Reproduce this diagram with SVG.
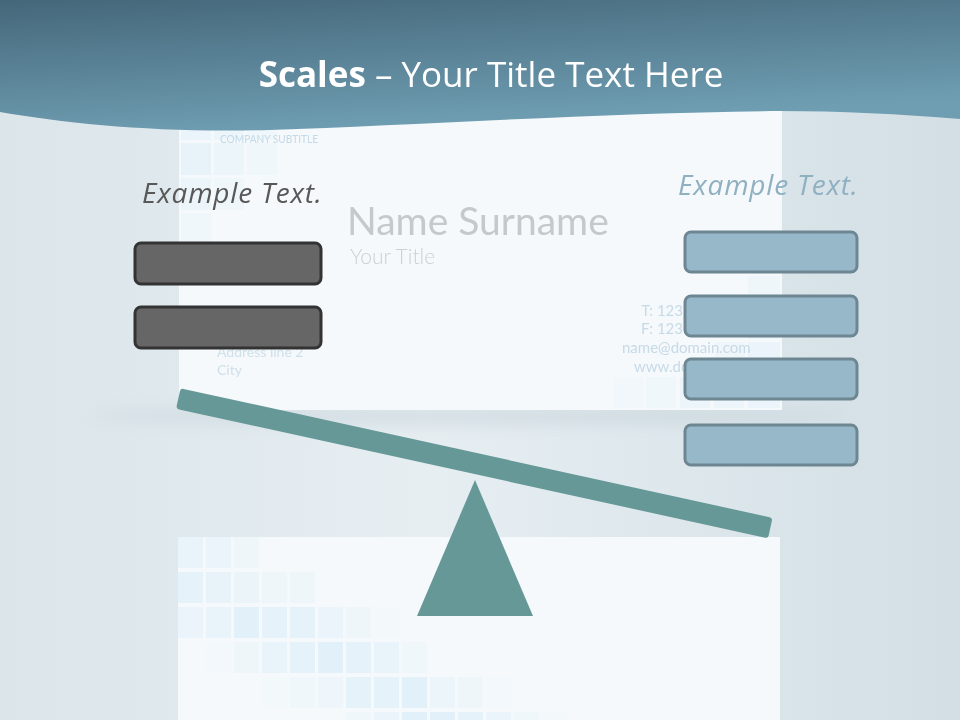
<svg xmlns="http://www.w3.org/2000/svg" width="960" height="720" viewBox="0 0 960 720">
<defs>
<linearGradient id="bg" x1="0" y1="0" x2="1" y2="0">
<stop offset="0" stop-color="#dbe5ea"/><stop offset="0.45" stop-color="#e6eef2"/><stop offset="1" stop-color="#d3dfe5"/>
</linearGradient>
<linearGradient id="hdr" x1="0" y1="0" x2="0.35" y2="1">
<stop offset="0" stop-color="#45677a"/><stop offset="1" stop-color="#6f9eb3"/>
</linearGradient>
<filter id="blur" x="-20%" y="-200%" width="140%" height="500%"><feGaussianBlur stdDeviation="8"/></filter>
<style>
.card{fill:#f5f9fb}
.t{fill:#d6ebf8}
.lbox{fill:#666666;stroke:#333333;stroke-width:3}
.rbox{fill:#97b8c8;stroke:#6e8691;stroke-width:3}
.scale{fill:#669898}
.bgt{font-family:Lato,"Open Sans",sans-serif}
.ex{font-family:"Open Sans",sans-serif;font-style:italic;font-size:28px;letter-spacing:0.8px}
</style>
</defs>
<rect width="960" height="720" fill="url(#bg)"/>
<!-- upper card -->
<ellipse cx="470" cy="416" rx="380" ry="9" fill="#b4c2c9" opacity="0.35" filter="url(#blur)"/>
<rect class="card" x="179" y="90" width="603" height="320"/>
<g opacity="0.5">
<rect class="t" x="181" y="108" width="30" height="32" opacity="0.7"/>
<rect class="t" x="214" y="108" width="30" height="32" opacity="0.5"/>
<rect class="t" x="247" y="108" width="30" height="32" opacity="0.3"/>
<rect class="t" x="181" y="143" width="30" height="32" opacity="0.8"/>
<rect class="t" x="214" y="143" width="30" height="32" opacity="0.6"/>
<rect class="t" x="247" y="143" width="30" height="32" opacity="0.35"/>
<rect class="t" x="181" y="178" width="30" height="32" opacity="0.5"/>
<rect class="t" x="214" y="178" width="30" height="32" opacity="0.3"/>
<rect class="t" x="181" y="213" width="30" height="32" opacity="0.3"/>
<rect class="t" x="748" y="276" width="32" height="30" opacity="0.4"/>
<rect class="t" x="748" y="309" width="32" height="30" opacity="0.5"/>
<rect class="t" x="748" y="342" width="32" height="30" opacity="0.7"/>
<rect class="t" x="715" y="342" width="30" height="30" opacity="0.4"/>
<rect class="t" x="613" y="377" width="30" height="31" opacity="0.2"/>
<rect class="t" x="646" y="377" width="30" height="31" opacity="0.3"/>
<rect class="t" x="680" y="377" width="30" height="31" opacity="0.5"/>
<rect class="t" x="714" y="377" width="30" height="31" opacity="0.6"/>
<rect class="t" x="748" y="377" width="32" height="31" opacity="0.7"/>
</g>
<g class="bgt">
<text x="220" y="143" font-size="11.5" fill="#c3d9e7" textLength="98" lengthAdjust="spacingAndGlyphs">COMPANY SUBTITLE</text>
<text x="347" y="235" font-size="39" fill="#c6c9cb">Name Surname</text>
<text x="350" y="264" font-size="21" fill="#ccd0d2" font-weight="300">Your Title</text>
<text x="683" y="316" font-size="15" fill="#c6dae7" text-anchor="end">T: 123</text>
<text x="683" y="334" font-size="15" fill="#c6dae7" text-anchor="end">F: 123</text>
<text x="622" y="353" font-size="15" fill="#c6dae7">name@domain.com</text>
<text x="634" y="372" font-size="15" fill="#c6dae7">www.domain.com</text>
<text x="217" y="357" font-size="14" fill="#cfe0ea">Address line 2</text>
<text x="217" y="375" font-size="14" fill="#cfe0ea">City</text>
</g>
<!-- lower card -->
<rect class="card" x="178" y="537" width="602" height="183"/>
<g opacity="0.7">
<rect class="t" x="178" y="537" width="25" height="31" opacity="0.55"/>
<rect class="t" x="206" y="537" width="25" height="31" opacity="0.45"/>
<rect class="t" x="234" y="537" width="25" height="31" opacity="0.25"/>
<rect class="t" x="178" y="572" width="25" height="31" opacity="0.75"/>
<rect class="t" x="206" y="572" width="25" height="31" opacity="0.6"/>
<rect class="t" x="234" y="572" width="25" height="31" opacity="0.5"/>
<rect class="t" x="262" y="572" width="25" height="31" opacity="0.3"/>
<rect class="t" x="290" y="572" width="25" height="31" opacity="0.25"/>
<rect class="t" x="178" y="607" width="25" height="31" opacity="0.45"/>
<rect class="t" x="206" y="607" width="25" height="31" opacity="0.55"/>
<rect class="t" x="234" y="607" width="25" height="31" opacity="0.85"/>
<rect class="t" x="262" y="607" width="25" height="31" opacity="0.7"/>
<rect class="t" x="290" y="607" width="25" height="31" opacity="0.65"/>
<rect class="t" x="318" y="607" width="25" height="31" opacity="0.45"/>
<rect class="t" x="346" y="607" width="25" height="31" opacity="0.3"/>
<rect class="t" x="374" y="607" width="25" height="31" opacity="0.1"/>
<rect class="t" x="206" y="642" width="25" height="31" opacity="0.15"/>
<rect class="t" x="234" y="642" width="25" height="31" opacity="0.25"/>
<rect class="t" x="262" y="642" width="25" height="31" opacity="0.55"/>
<rect class="t" x="290" y="642" width="25" height="31" opacity="0.65"/>
<rect class="t" x="318" y="642" width="25" height="31" opacity="0.85"/>
<rect class="t" x="346" y="642" width="25" height="31" opacity="0.75"/>
<rect class="t" x="374" y="642" width="25" height="31" opacity="0.55"/>
<rect class="t" x="402" y="642" width="25" height="31" opacity="0.2"/>
<rect class="t" x="262" y="677" width="25" height="31" opacity="0.1"/>
<rect class="t" x="290" y="677" width="25" height="31" opacity="0.2"/>
<rect class="t" x="318" y="677" width="25" height="31" opacity="0.35"/>
<rect class="t" x="346" y="677" width="25" height="31" opacity="0.65"/>
<rect class="t" x="374" y="677" width="25" height="31" opacity="0.75"/>
<rect class="t" x="402" y="677" width="25" height="31" opacity="0.85"/>
<rect class="t" x="430" y="677" width="25" height="31" opacity="0.4"/>
<rect class="t" x="458" y="677" width="25" height="31" opacity="0.3"/>
<rect class="t" x="486" y="677" width="25" height="31" opacity="0.15"/>
<rect class="t" x="346" y="712" width="25" height="8" opacity="0.2"/>
<rect class="t" x="374" y="712" width="25" height="8" opacity="0.45"/>
<rect class="t" x="402" y="712" width="25" height="8" opacity="0.85"/>
<rect class="t" x="430" y="712" width="25" height="8" opacity="0.85"/>
<rect class="t" x="458" y="712" width="25" height="8" opacity="0.7"/>
<rect class="t" x="486" y="712" width="25" height="8" opacity="0.45"/>
<rect class="t" x="514" y="712" width="25" height="8" opacity="0.2"/>
<rect class="t" x="542" y="712" width="25" height="8" opacity="0.1"/>
</g>
<!-- header -->
<path d="M0,0 H960 V119 C900,114 840,111 780,111 C620,112 420,125 270,130 C160,133 70,124 0,112 Z" fill="url(#hdr)"/>
<text x="491" y="87" text-anchor="middle" font-family="'Open Sans',sans-serif" font-size="35" fill="#ffffff"><tspan font-weight="bold">Scales</tspan> – Your Title Text Here</text>
<!-- scale -->
<g id="fulcrum"><polygon class="scale" points="475,480 533,616 417,616"/></g>
<g id="beam"><rect class="scale" x="-303" y="-10.5" width="606" height="21" rx="3" transform="translate(474.3,463.3) rotate(12.35)"/></g>
<!-- left side -->
<g id="left-label"><text class="ex" x="142" y="203" fill="#585858">Example Text.</text></g>
<g id="left-box-1"><rect class="lbox" x="135" y="243" width="186" height="41" rx="6"/></g>
<g id="left-box-2"><rect class="lbox" x="135" y="307" width="186" height="41" rx="6"/></g>
<!-- right side -->
<g id="right-label"><text class="ex" x="678" y="195" fill="#8fb0c1">Example Text.</text></g>
<g id="right-box-1"><rect class="rbox" x="685" y="232" width="172" height="40" rx="6"/></g>
<g id="right-box-2"><rect class="rbox" x="685" y="296" width="172" height="40" rx="6"/></g>
<g id="right-box-3"><rect class="rbox" x="685" y="359" width="172" height="40" rx="6"/></g>
<g id="right-box-4"><rect class="rbox" x="685" y="425" width="172" height="40" rx="6"/></g>
<g id="connectors"></g>
</svg>
